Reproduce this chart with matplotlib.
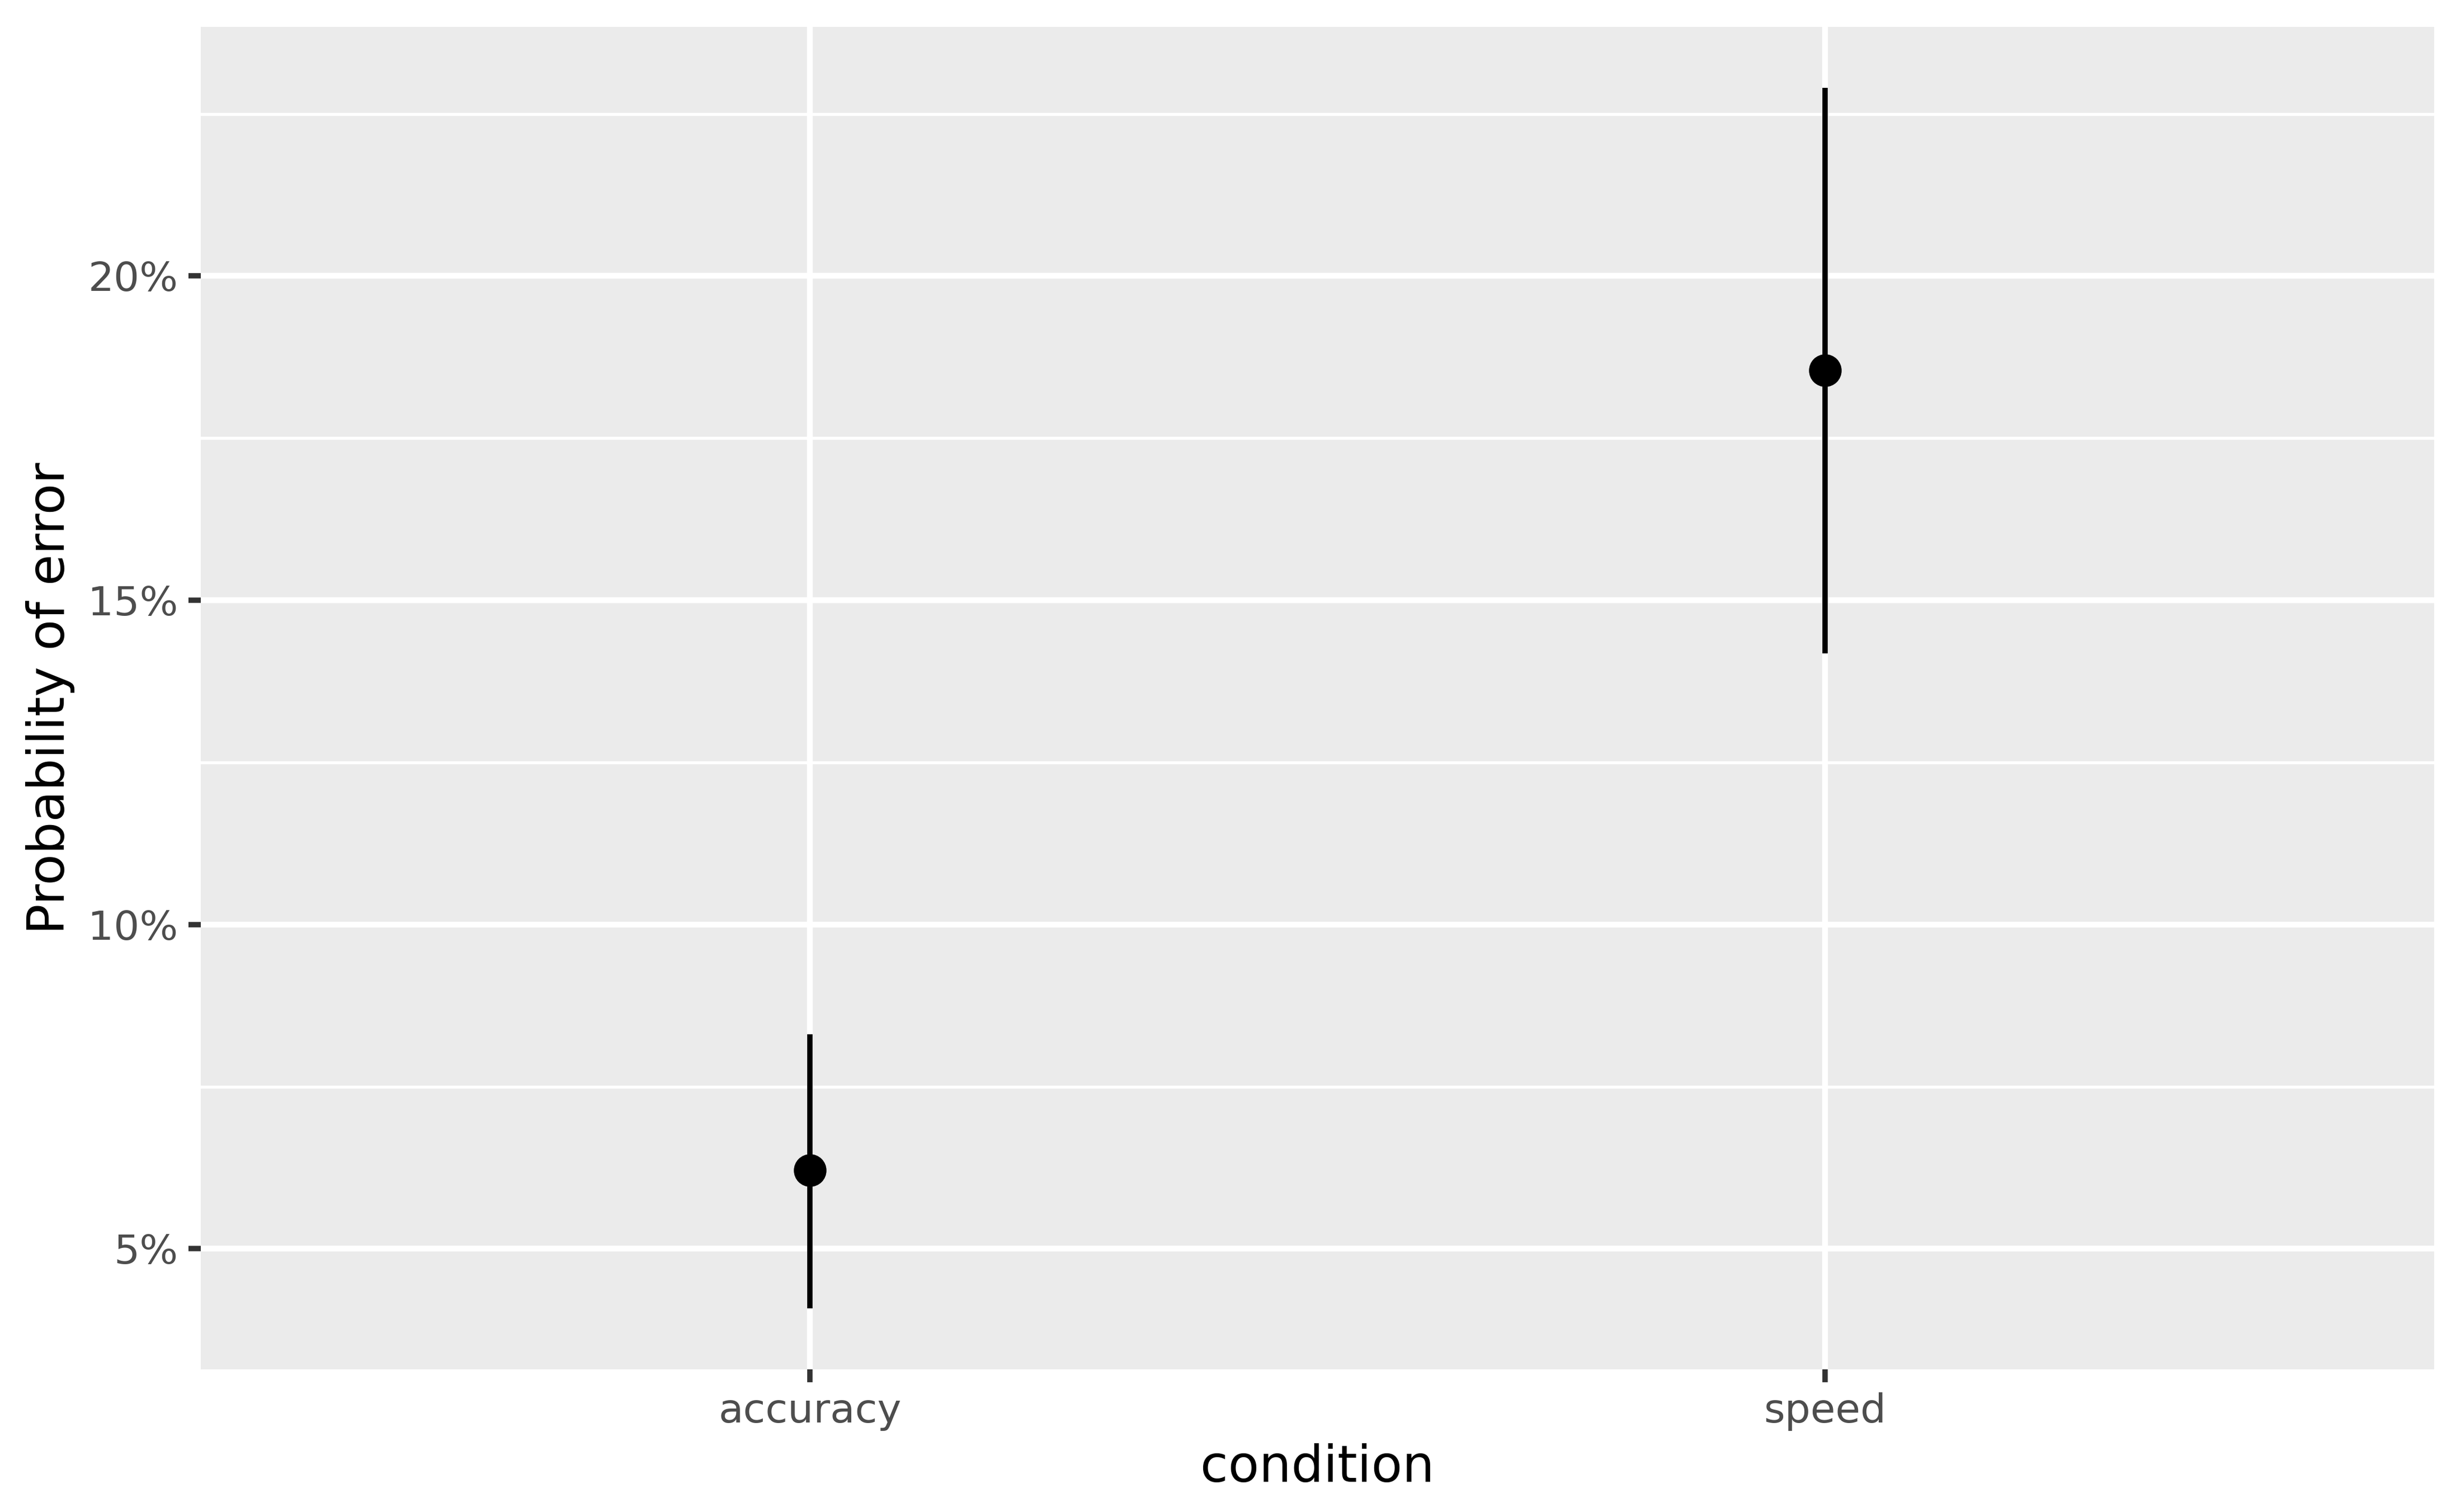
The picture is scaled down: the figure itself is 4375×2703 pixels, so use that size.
import numpy as np
import matplotlib
matplotlib.use("Agg")
from matplotlib import pyplot as plt
from matplotlib.ticker import FuncFormatter, MultipleLocator

# estimated error probabilities (fraction)
conditions = ["accuracy", "speed"]
estimate = [0.0621, 0.1855]
lower = [0.0408, 0.1418]
upper = [0.0831, 0.2290]

BG = "#EBEBEB"; GRID = "white"; TXT = "#4D4D4D"; TICK = "#333333"

fig = plt.figure(figsize=(4375 / 300, 2703 / 300), dpi=300)
ax = fig.add_axes([0.0821, 0.0943, 0.9947 - 0.0821, 0.9822 - 0.0943])
ax.set_facecolor(BG)
for s in ax.spines.values():
    s.set_visible(False)

x = np.arange(len(conditions))
ax.vlines(x, lower, upper, color="black", lw=2.3, zorder=3)
ax.plot(x, estimate, "o", color="black", ms=13, zorder=4)

# ggplot-style expansion
lo, hi = min(lower), max(upper); pad = 0.05 * (hi - lo)
ax.set_ylim(lo - pad, hi + pad)
ax.set_xlim(-0.6, len(conditions) - 1 + 0.6)

ax.yaxis.set_major_locator(MultipleLocator(0.05))
ax.yaxis.set_minor_locator(MultipleLocator(0.025))
ax.yaxis.set_major_formatter(FuncFormatter(lambda v, _: f"{v * 100:.0f}%"))
ax.set_xticks(x, conditions)

ax.grid(True, which="major", color=GRID, lw=2.5)
ax.grid(True, which="minor", axis="y", color=GRID, lw=1.3)
ax.set_axisbelow(True)

ax.tick_params(which="major", length=5.4, width=2.3, color=TICK, labelcolor=TXT,
               labelsize=17.4, pad=4.4)
ax.tick_params(which="minor", length=0)

ax.set_xlabel("condition", fontsize=21.75, labelpad=5.4)
ax.set_ylabel("Probability of error", fontsize=21.75, labelpad=5.4)

fig.savefig("out.png", dpi=300, facecolor="white")
